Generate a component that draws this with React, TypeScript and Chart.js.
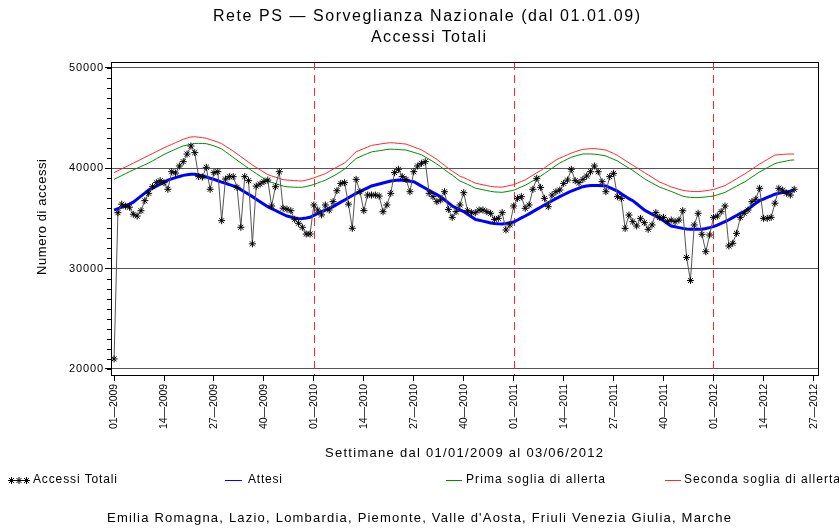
import React, { useEffect, useRef } from "react";
import { Chart, registerables } from "chart.js";

Chart.register(...registerables);

// ---- data (weekly, index 0 = week 01-2009) ----
const tickLabels = [
  "01—2009", "14—2009", "27—2009", "40—2009",
  "01—2010", "14—2010", "27—2010", "40—2010",
  "01—2011", "14—2011", "27—2011", "40—2011",
  "01—2012", "14—2012", "27—2012",
];
const weeksPerTick = 13;
const yearStarts = [52, 104, 156];
const yTicks = [20000, 30000, 40000, 50000];

const accessiTotali = [
  21000, 35550, 36400, 36200, 36100, 35400, 35220, 35750, 36750, 37480,
  38140, 38540, 38740, 38540, 37880, 39630, 39500, 40200, 40630, 41390,
  42190, 41530, 39140, 39100, 40070, 37880, 39540, 39640, 34760, 38900,
  39140, 39140, 38080, 34100, 39140, 38740, 32450, 38200, 38410, 38640,
  38800, 36220, 38140, 39630, 36000, 35900, 35750, 34900, 34500, 34100,
  33430, 33430, 36320, 35820, 35330, 36320, 35820, 36650, 37740, 38470,
  38540, 36400, 34000, 38870, 37640, 35760, 37310, 37310, 37310, 37210,
  35650, 36320, 37480, 39540, 39870, 39140, 38870, 37640, 39630, 40200,
  40470, 40630, 37480, 37150, 36650, 36820, 37640, 35880, 35090, 35660,
  36320, 37540, 35750, 35550, 35550, 35820, 35820, 35650, 35490, 34890,
  34990, 35560, 33830, 34330, 36220, 36980, 37150, 35990, 36320, 37880,
  38970, 38070, 36980, 36150, 37310, 37640, 37810, 38470, 38800, 39870,
  38740, 38540, 38870, 39200, 39630, 40200, 39630, 38640, 37640, 39140,
  39470, 37150, 36980, 33990, 35320, 34660, 34230, 34990, 34560, 33900,
  34330, 35560, 35090, 35090, 34660, 34820, 34660, 34820, 35750, 31100,
  28800, 34330, 35490, 33400, 31670, 33330, 35090, 35220, 35650, 36220,
  32240, 32510, 33500, 35090, 35500, 35820, 36650, 36900, 37980, 34990,
  34990, 35090, 36500, 37980, 37800, 37500, 37310, 37880,
];

const attesi = [
  35800, 35950, 36100, 36250, 36400, 36600, 36900, 37200, 37500, 37800,
  38000, 38200, 38400, 38600, 38800, 38920, 39040, 39160, 39270, 39330,
  39380, 39380, 39300, 39200, 39100, 38980, 38870, 38730, 38600, 38480,
  38350, 38220, 38080, 37850, 37620, 37380, 37150, 36900, 36650, 36400,
  36150, 35960, 35770, 35590, 35400, 35220, 35130, 35040, 34960, 34980,
  35030, 35090, 35280, 35490, 35650, 35820, 35990, 36150, 36380, 36600,
  36820, 37040, 37260, 37480, 37660, 37840, 38020, 38210, 38310, 38410,
  38510, 38610, 38700, 38760, 38800, 38780, 38740, 38690, 38640, 38420,
  38200, 37980, 37770, 37560, 37350, 37150, 36840, 36530, 36220, 36030,
  35840, 35660, 35400, 35150, 34890, 34800, 34710, 34620, 34530, 34480,
  34450, 34430, 34490, 34560, 34630, 34830, 35030, 35220, 35440, 35660,
  35880, 36100, 36320, 36530, 36740, 36950, 37150, 37340, 37520, 37710,
  37850, 38000, 38140, 38200, 38260, 38270, 38250, 38230, 38210, 38040,
  37870, 37700, 37450, 37200, 36950, 36750, 36440, 36130, 35820, 35610,
  35400, 35200, 34990, 34740, 34490, 34230, 34150, 34070, 33990, 33930,
  33910, 33900, 33900, 33900, 33980, 34070, 34160, 34320, 34490, 34660,
  34850, 35060, 35270, 35480, 35660, 35930, 36200, 36480, 36750, 36910,
  37070, 37230, 37390, 37480, 37550, 37620, 37700, 37780,
];

const primaSoglia = [
  38870, 39060, 39250, 39440, 39630, 39810, 39980, 40150, 40320, 40500,
  40710, 40920, 41130, 41340, 41530, 41700, 41870, 42040, 42200, 42280,
  42360, 42440, 42450, 42440, 42420, 42320, 42200, 42060, 41900, 41620,
  41340, 41060, 40780, 40510, 40240, 39970, 39700, 39450, 39200, 38950,
  38700, 38570, 38450, 38330, 38200, 38130, 38110, 38090, 38080, 38080,
  38160, 38250, 38360, 38510, 38650, 38790, 38990, 39190, 39400, 39650,
  39900, 40250, 40600, 40950, 41120, 41290, 41450, 41600, 41660, 41720,
  41780, 41840, 41880, 41860, 41840, 41810, 41790, 41670, 41560, 41440,
  41320, 41100, 40870, 40640, 40400, 40120, 39840, 39550, 39310, 39000,
  38700, 38550, 38370, 38190, 38000, 37920, 37840, 37760, 37680, 37620,
  37600, 37580, 37640, 37710, 37790, 37950, 38120, 38280, 38500, 38730,
  38960, 39190, 39450, 39710, 39980, 40250, 40500, 40690, 40880, 41070,
  41190, 41300, 41390, 41400, 41400, 41380, 41330, 41270, 41200, 41030,
  40870, 40700, 40460, 40220, 39990, 39760, 39490, 39210, 38940, 38720,
  38510, 38300, 38100, 37960, 37810, 37670, 37510, 37350, 37200, 37120,
  37080, 37060, 37050, 37080, 37120, 37170, 37210, 37330, 37450, 37570,
  37780, 37990, 38190, 38400, 38590, 38840, 39100, 39350, 39610, 39820,
  40030, 40230, 40440, 40540, 40620, 40700, 40780, 40800,
];

const secondaSoglia = [
  39540, 39730, 39920, 40100, 40290, 40480, 40670, 40860, 41060, 41250,
  41440, 41630, 41820, 42010, 42180, 42350, 42520, 42690, 42860, 42980,
  43090, 43110, 43070, 43020, 42960, 42830, 42710, 42580, 42420, 42170,
  41930, 41680, 41410, 41130, 40860, 40580, 40300, 40060, 39820, 39580,
  39340, 39210, 39090, 38970, 38840, 38800, 38770, 38740, 38720, 38710,
  38800, 38900, 39020, 39160, 39300, 39440, 39660, 39880, 40090, 40300,
  40500, 40870, 41250, 41620, 41780, 41930, 42090, 42250, 42310, 42370,
  42430, 42480, 42520, 42490, 42450, 42420, 42380, 42240, 42100, 41950,
  41810, 41580, 41340, 41100, 40860, 40560, 40260, 39960, 39700, 39450,
  39180, 39050, 38870, 38680, 38500, 38410, 38330, 38250, 38170, 38130,
  38110, 38100, 38180, 38260, 38340, 38500, 38660, 38820, 39060, 39290,
  39520, 39750, 40010, 40270, 40530, 40790, 40990, 41150, 41320, 41480,
  41620, 41750, 41850, 41890, 41930, 41930, 41890, 41840, 41790, 41620,
  41450, 41260, 41010, 40760, 40520, 40280, 40040, 39790, 39550, 39320,
  39080, 38840, 38600, 38450, 38280, 38110, 38000, 37890, 37780, 37720,
  37680, 37660, 37650, 37690, 37740, 37800, 37860, 37990, 38120, 38250,
  38480, 38700, 38930, 39160, 39370, 39630, 39880, 40140, 40400, 40620,
  40850, 41070, 41290, 41320, 41350, 41380, 41390, 41400,
];

const FONT = '"Liberation Sans", Arial, Helvetica, sans-serif';
const BLUE = "rgb(0,0,255)";
const GREEN = "rgb(0,140,0)";
const RED = "rgb(255,40,40)";

const toXY = (arr: number[]) => arr.map((v, i) => ({ x: i, y: v }));

// draws text so that it spans `width` px, using letter spacing (as the reference's spaced font)
function spacedText(
  ctx: CanvasRenderingContext2D,
  text: string,
  x: number,
  y: number,
  width: number,
  size: number,
  align: "left" | "center" | "right" = "center"
) {
  const c: any = ctx;
  ctx.save();
  ctx.font = `${size}px ${FONT}`;
  ctx.textBaseline = "middle";
  ctx.textAlign = "left";
  ctx.fillStyle = "#000";
  const start = align === "center" ? x - width / 2 : align === "right" ? x - width : x;
  const hasLS = "letterSpacing" in c;
  if (hasLS) c.letterSpacing = "0px";
  const w0 = ctx.measureText(text).width;
  if (hasLS && text.length > 1) {
    const sp = (width - w0) / (text.length - 1);
    c.letterSpacing = `${sp}px`;
    ctx.fillText(text, start, y);
    c.letterSpacing = "0px";
  } else {
    ctx.translate(start, y);
    ctx.scale(width / w0, 1);
    ctx.fillText(text, 0, 0);
  }
  ctx.restore();
}

function drawStar(ctx: CanvasRenderingContext2D, x: number, y: number, r: number) {
  ctx.beginPath();
  for (let k = 0; k < 4; k++) {
    const a = (k * Math.PI) / 4;
    ctx.moveTo(x - Math.cos(a) * r, y - Math.sin(a) * r);
    ctx.lineTo(x + Math.cos(a) * r, y + Math.sin(a) * r);
  }
  ctx.stroke();
}

const decorPlugin = {
  id: "decor",
  beforeDraw(chart: any) {
    const ctx = chart.ctx;
    ctx.save();
    ctx.fillStyle = "#fff";
    ctx.fillRect(0, 0, chart.width, chart.height);
    ctx.restore();
  },
  beforeDatasetsDraw(chart: any) {
    const ctx = chart.ctx;
    const { top, bottom } = chart.chartArea;
    const xs = chart.scales.x;
    ctx.save();
    ctx.strokeStyle = RED;
    ctx.lineWidth = 1;
    ctx.setLineDash([8, 5]);
    yearStarts.forEach((w) => {
      const px = Math.round(xs.getPixelForValue(w)) + 0.5;
      ctx.beginPath();
      ctx.moveTo(px, top);
      ctx.lineTo(px, bottom);
      ctx.stroke();
    });
    ctx.restore();
  },
  afterDraw(chart: any) {
    const ctx = chart.ctx;
    const { left, right, top, bottom } = chart.chartArea;
    const ys = chart.scales.y;
    const xs = chart.scales.x;
    ctx.save();
    // frame
    ctx.strokeStyle = "#000";
    ctx.lineWidth = 1;
    ctx.strokeRect(Math.round(left) + 0.5, Math.round(top) + 0.5, Math.round(right - left), Math.round(bottom - top));
    // minor ticks on y axis
    ctx.beginPath();
    for (let v = yTicks[0]; v <= yTicks[yTicks.length - 1]; v += 1000) {
      const py = Math.round(ys.getPixelForValue(v)) + 0.5;
      ctx.moveTo(left - 4, py);
      ctx.lineTo(left, py);
    }
    ctx.stroke();

    // y tick labels
    yTicks.forEach((v) => {
      spacedText(ctx, String(v), left - 8, ys.getPixelForValue(v), 34, 11, "right");
    });
    // x tick labels (rotated)
    tickLabels.forEach((lab, k) => {
      const px = xs.getPixelForValue(k * weeksPerTick);
      ctx.save();
      ctx.translate(px + 0.5, bottom + 9);
      ctx.rotate(-Math.PI / 2);
      spacedText(ctx, lab, 0, 0, 45, 10.5, "right");
      ctx.restore();
    });

    // titles
    spacedText(ctx, "Rete PS — Sorveglianza Nazionale (dal 01.01.09)", 426.5, 17, 427, 16);
    spacedText(ctx, "Accessi Totali", 428.5, 38, 115, 16);
    // y axis title
    ctx.save();
    ctx.translate(42, 217);
    ctx.rotate(-Math.PI / 2);
    spacedText(ctx, "Numero di accessi", 0, 0, 116, 13);
    ctx.restore();
    // x axis title
    spacedText(ctx, "Settimane dal 01/01/2009 al 03/06/2012", 464, 453, 278, 13);

    // legend
    const ly = 480;
    ctx.strokeStyle = "#000";
    ctx.lineWidth = 1;
    ctx.beginPath();
    ctx.moveTo(8, ly + 0.5);
    ctx.lineTo(30, ly + 0.5);
    ctx.stroke();
    drawStar(ctx, 11.5, ly + 0.5, 3.5);
    drawStar(ctx, 19, ly + 0.5, 3.5);
    drawStar(ctx, 26.5, ly + 0.5, 3.5);
    spacedText(ctx, "Accessi Totali", 33, ly, 84, 12, "left");

    ctx.strokeStyle = BLUE;
    ctx.beginPath();
    ctx.moveTo(225, ly + 0.5);
    ctx.lineTo(242, ly + 0.5);
    ctx.stroke();
    spacedText(ctx, "Attesi", 248, ly, 34, 12, "left");

    ctx.strokeStyle = GREEN;
    ctx.beginPath();
    ctx.moveTo(446, ly + 0.5);
    ctx.lineTo(462, ly + 0.5);
    ctx.stroke();
    spacedText(ctx, "Prima soglia di allerta", 466, ly, 139, 12, "left");

    ctx.strokeStyle = RED;
    ctx.beginPath();
    ctx.moveTo(665, ly + 0.5);
    ctx.lineTo(681, ly + 0.5);
    ctx.stroke();
    spacedText(ctx, "Seconda soglia di allerta", 684, ly, 156, 12, "left");

    // footer
    spacedText(
      ctx,
      "Emilia Romagna, Lazio, Lombardia, Piemonte, Valle d'Aosta, Friuli Venezia Giulia, Marche",
      419,
      518,
      624,
      13
    );
    ctx.restore();
  },
};

export default function App() {
  const ref = useRef<HTMLCanvasElement | null>(null);

  useEffect(() => {
    if (!ref.current) return;
    const chart = new Chart(ref.current, {
      type: "line",
      data: {
        datasets: [
          {
            label: "Accessi Totali",
            data: toXY(accessiTotali),
            borderColor: "#555",
            borderWidth: 1,
            pointStyle: "star",
            pointRadius: 3.5,
            pointBorderColor: "#000",
            pointBorderWidth: 1,
            pointBackgroundColor: "#000",
            tension: 0,
          },
          {
            label: "Attesi",
            data: toXY(attesi),
            borderColor: BLUE,
            borderWidth: 3,
            pointRadius: 0,
            tension: 0,
          },
          {
            label: "Prima soglia di allerta",
            data: toXY(primaSoglia),
            borderColor: GREEN,
            borderWidth: 1,
            pointRadius: 0,
            tension: 0,
          },
          {
            label: "Seconda soglia di allerta",
            data: toXY(secondaSoglia),
            borderColor: RED,
            borderWidth: 1,
            pointRadius: 0,
            tension: 0,
          },
        ],
      },
      options: {
        responsive: false,
        animation: false,
        events: [],
        layout: { padding: { left: 0, right: 21, top: 62, bottom: 0 } },
        plugins: {
          legend: { display: false },
          title: { display: false },
          tooltip: { enabled: false },
        },
        scales: {
          x: {
            type: "linear",
            min: -0.8,
            max: 183.2,
            afterFit: (s: any) => {
              s.height = 153;
            },
            afterBuildTicks: (s: any) => {
              s.ticks = tickLabels.map((_, k) => ({ value: k * weeksPerTick }));
            },
            ticks: { display: false },
            grid: {
              display: true,
              drawOnChartArea: false,
              drawTicks: true,
              tickLength: 6,
              color: "#000",
            },
            border: { display: true, color: "#000", width: 1 },
          },
          y: {
            type: "linear",
            min: 19400,
            max: 50550,
            afterFit: (s: any) => {
              s.width = 111;
            },
            afterBuildTicks: (s: any) => {
              s.ticks = yTicks.map((v) => ({ value: v }));
            },
            ticks: { display: false },
            grid: {
              display: true,
              drawOnChartArea: true,
              drawTicks: true,
              tickLength: 6,
              color: "#555",
              tickColor: "#000",
            },
            border: { display: true, color: "#000", width: 1 },
          },
        },
      },
      plugins: [decorPlugin],
    } as any);
    return () => chart.destroy();
  }, []);

  return (
    <div style={{ position: "fixed", left: 0, top: 0, width: 839, height: 528, background: "#fff" }}>
      <canvas ref={ref} width={839} height={528} style={{ display: "block" }} />
    </div>
  );
}
